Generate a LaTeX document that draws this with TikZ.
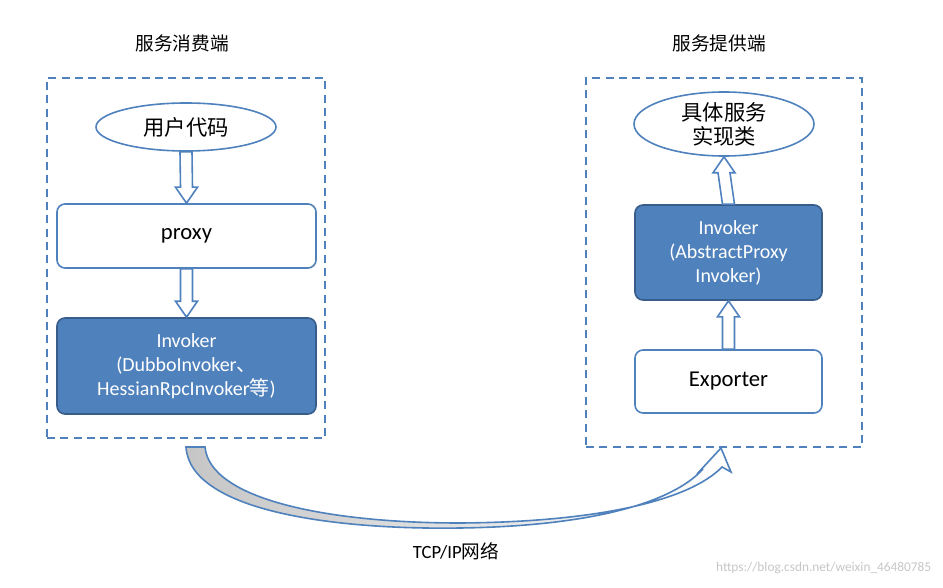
\documentclass[tikz,border=0pt]{standalone}
\usepackage{fontspec}
\setmainfont{Carlito}
\newfontfamily\cjk{Noto Sans CJK SC}
\usetikzlibrary{calc}
\definecolor{bl}{HTML}{4F81BD}
\definecolor{dk}{HTML}{385D8A}
\begin{document}
\begin{tikzpicture}[x=0.75pt,y=-0.75pt,
  frame/.style={draw=bl,dashed,line width=1.3pt,dash pattern=on 6pt off 4pt},
  ell/.style={ellipse,draw=bl,line width=1.2pt,fill=white,font=\cjk\fontsize{16}{18}\selectfont,align=center,inner sep=0pt},
  wbox/.style={draw=bl,line width=1.2pt,rounded corners=6pt,fill=white,align=center},
  bbox/.style={draw=dk,line width=1.2pt,rounded corners=6pt,fill=bl,text=white,align=center,font=\fontsize{15}{18}\selectfont},
  harrow/.style={draw=bl,line width=1.2pt,fill=white},
  ttl/.style={font=\cjk\fontsize{14}{16}\selectfont}]
\useasboundingbox (0,0) rectangle (943,588);
\usetikzlibrary{shapes.geometric}
\node[frame,minimum width=278*0.75pt,minimum height=360*0.75pt] (L) at (186,258) {};
\node[frame,minimum width=276*0.75pt,minimum height=369*0.75pt] (R) at (724,262.5) {};
\node[ttl] (tl) at (182,43) {服务消费端};
\node[ttl] (tr) at (719,43) {服务提供端};
\node[ell,minimum width=180*0.75pt,minimum height=48*0.75pt] (u) at (186,127) {用户代码};
\node[wbox,minimum width=259*0.75pt,minimum height=64*0.75pt,font=\fontsize{17}{20}\selectfont] (p) at (186.5,236) {proxy};
\node[bbox,minimum width=259*0.75pt,minimum height=96*0.75pt] (ic) at (186.5,366) {Invoker\\(DubboInvoker{\cjk 、}\\HessianRpcInvoker{\cjk 等})};
\node[ell,minimum width=180*0.75pt,minimum height=64*0.75pt] (s) at (724,124) {具体服务\\实现类};
\node[bbox,minimum width=187*0.75pt,minimum height=95*0.75pt] (ip) at (728.5,252.5) {Invoker\\(AbstractProxy\\Invoker)};
\node[wbox,minimum width=187*0.75pt,minimum height=63*0.75pt,font=\fontsize{17}{20}\selectfont] (e) at (728.5,381.5) {Exporter};
\newcommand\hdown[2]{\draw[harrow] ($(#1.south)+(-6,0)$) -- ($(#2.north)+(-6,-16)$) -- ($(#2.north)+(-11,-16)$) -- (#2.north) -- ($(#2.north)+(11,-16)$) -- ($(#2.north)+(6,-16)$) -- ($(#1.south)+(6,0)$) -- cycle;}
\newcommand\hup[2]{\draw[harrow] ($(#1.north)+(-6,0)$) -- ($(#2.south)+(-6,16)$) -- ($(#2.south)+(-11,16)$) -- (#2.south) -- ($(#2.south)+(11,16)$) -- ($(#2.south)+(6,16)$) -- ($(#1.north)+(6,0)$) -- cycle;}
\hdown{u}{p}
\hdown{p}{ic}
\hup{e}{ip}
\hup{ip}{s}
\coordinate (c1) at (186,447);
\coordinate (c2) at (205,447);
\coordinate (tip) at (721,448);
\path[draw=bl,line width=1.2pt,left color=gray!45,right color=white]
  (c1) .. controls (190,510) and (330,530) .. (460,528)
  .. controls (600,526) and (675,500) .. (703,469)
  -- (697,474) -- (tip) -- (731,472) -- (722,467)
  .. controls (690,500) and (600,522) .. (460,523)
  .. controls (330,523) and (210,500) .. (c2) -- cycle;
\node[font=\fontsize{14}{16}\selectfont] (tcp) at (456,551) {TCP/IP{\cjk 网络}};
\node[text=gray!45,font=\fontsize{10}{12}\selectfont,anchor=east] (wm) at (936,568) {https://blog.csdn.net/weixin\_46480785};
\end{tikzpicture}
\end{document}
